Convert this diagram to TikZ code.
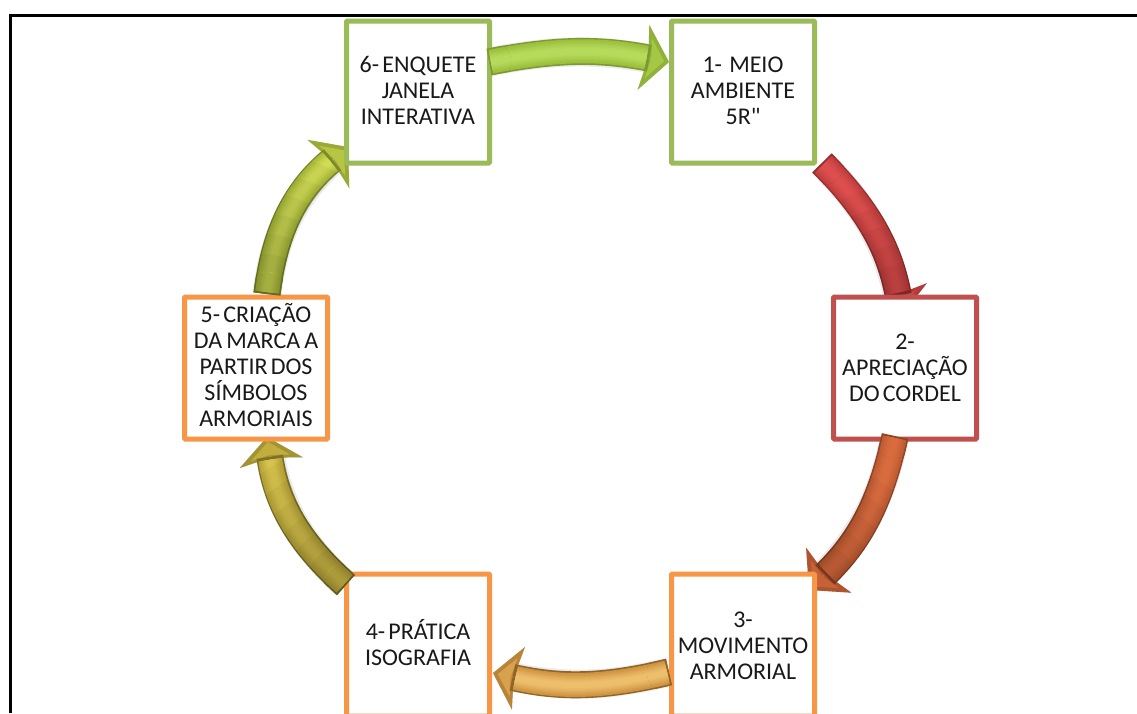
\documentclass[tikz,border=0pt]{standalone}
\usepackage{fontspec}
\setmainfont{Carlito}
\newfontfamily\nomap{Carlito}
\usetikzlibrary{arrows.meta,bending}
\pgfdeclarelayer{back}
\pgfdeclarelayer{front}
\pgfsetlayers{back,main,front}
\definecolor{bxgreen}{HTML}{9BBB59}
\definecolor{bxred}{HTML}{C0504D}
\definecolor{bxorange}{HTML}{F79646}
% arrow colours: dark, mid, light
\definecolor{aGd}{HTML}{7C9A30}\definecolor{aGm}{HTML}{9CBF3C}\definecolor{aGl}{HTML}{B6DA5C}
\definecolor{aRd}{HTML}{983130}\definecolor{aRm}{HTML}{C23F3F}\definecolor{aRl}{HTML}{DC4F4E}
\definecolor{aOd}{HTML}{8F4526}\definecolor{aOm}{HTML}{BF5C33}\definecolor{aOl}{HTML}{D96C3E}
\definecolor{aAd}{HTML}{8F6428}\definecolor{aAm}{HTML}{CF9440}\definecolor{aAl}{HTML}{EDBE6C}
\definecolor{aYd}{HTML}{7F7325}\definecolor{aYm}{HTML}{B8A53A}\definecolor{aYl}{HTML}{D6C24C}
\definecolor{aLd}{HTML}{7E8A28}\definecolor{aLm}{HTML}{ABBB3C}\definecolor{aLl}{HTML}{D0DC54}
\newcommand\tsp{\hspace{0.13em}}
\newcommand\wsp{\hspace{0.17em}}
\tikzset{
  stagebox/.style={draw=#1,fill=white,line width=5pt,rounded corners=1pt,minimum width=143pt,minimum height=142pt,
    inner sep=0pt,outer sep=0pt,text width=140pt,align=center,
    font=\fontsize{24}{26}\selectfont,text=black!90},
  textup/.style={execute at end node={\par\vspace{#1pt}}},
}
\newcommand\nofade[4]{}
% darken the body progressively towards its tail: circles grow round the tail end
\newcommand\fadetail[4]{%
  \foreach \sv in {40,60,80,100,120,140}{%
    \begin{scope}
      \clip (#1) circle[radius=\sv pt];
      \draw[line width=27pt,draw=black,opacity=.035,shorten >=#4pt-6pt] (#1) to[bend left=#3] (#2);
    \end{scope}
  }%
}
% darken the body progressively towards its head
\newcommand\fadehead[4]{%
  \foreach \sv in {50,70,90,110,130}{%
    \begin{scope}
      \clip (#2) circle[radius=\sv pt];
      \draw[line width=27pt,draw=black,opacity=.03,shorten >=#4pt-6pt] (#1) to[bend left=#3] (#2);
    \end{scope}
  }%
}
\let\fadecmd\nofade
% from, to, bend, dark, mid, light, head length
\newcommand\fatbody[7]{%
  \draw[line width=27pt,draw=#4,shorten >=#7pt-6pt] (#1) to[bend left=#3] (#2);
  \foreach \wd/\pc in {24/0,21/15,18/35,15/55,12/72,9/88,6/100}{%
    \draw[line width=\wd pt,draw=#6!\pc!#5,shorten >=#7pt-3pt,shorten <=2pt] (#1) to[bend left=#3] (#2);
  }%
  \fadecmd{#1}{#2}{#3}{#7}%
}
% from, to, bend, dark, mid, light, head length, head width
\newcommand\fatarrow[8]{%
  \begin{pgfonlayer}{back}
    \begin{scope}[shift={(2pt,-4pt)}]
      \draw[line width=29pt,draw=black,opacity=.08,-{Stealth[flex,length=#7pt,width=#8pt,inset=5pt,line width=0pt]}] (#1) to[bend left=#3] (#2);
      \draw[line width=25pt,draw=black,opacity=.10,-{Stealth[flex,length=#7pt,width=#8pt,inset=5pt,line width=0pt]}] (#1) to[bend left=#3] (#2);
    \end{scope}
    \draw[line width=1pt,draw=#4!35!#5,-{Stealth[flex,length=#7pt,width=#8pt,inset=5pt,line width=0pt]}] (#1) to[bend left=#3] (#2);
    \draw[line width=1pt,draw=#6!30!#5,shorten >=5pt,-{Stealth[flex,length=0.62*#7pt,width=0.62*#8pt,inset=3pt,line width=0pt]}] (#1) to[bend left=#3] (#2);
    \fatbody{#1}{#2}{#3}{#4}{#5}{#6}{#7}
  \end{pgfonlayer}
  \begin{pgfonlayer}{front}
    \begin{scope}
      \clip (#1) circle[radius=22pt];
      \fatbody{#1}{#2}{#3}{#4}{#5}{#6}{#7}
    \end{scope}
  \end{pgfonlayer}
}
\begin{document}
\begin{tikzpicture}[x=1pt,y=1pt]
\useasboundingbox (0,-713) rectangle (1137,0);
\clip (0,-713) rectangle (1137,0);
\begin{pgfonlayer}{back}
\fill[white] (0,-713) rectangle (1137,0);
\draw[line width=3pt,draw=black] (10,-713) -- (10,-15) -- (1137,-15);
\end{pgfonlayer}

\node[stagebox=bxgreen,textup=4] (n6) at (418,-92) {6-\tsp ENQUETE\\JANELA\\INTERATIVA};
\node[stagebox=bxgreen,textup=2] (n1) at (743,-92) {1-\hspace{0.3em}MEIO\\AMBIENTE\\5R{\nomap"}};
\node[stagebox=bxred,textup=1] (n2) at (905,-368) {2-\\APRECIAÇÃO\\DO\tsp CORDEL};
\node[stagebox=bxorange,textup=-2] (n3) at (743,-645) {3-\\MOVIMENTO\\ARMORIAL};
\node[stagebox=bxorange,textup=4] (n4) at (418,-645) {4-\tsp PRÁTICA\\ISOGRAFIA};
\node[stagebox=bxorange,textup=6] (n5) at (256,-368) {5-\tsp CRIAÇÃO\\DA\wsp MARCA\wsp A\\PARTIR\tsp DOS\\SÍMBOLOS\\ARMORIAIS};

\coordinate (t1) at (489,-62);  \coordinate (h1) at (669,-62);
\coordinate (t2) at (822,-163); \coordinate (h2) at (902,-315);
\coordinate (t3) at (895,-436); \coordinate (h3) at (809,-590);
\coordinate (t4) at (669,-672); \coordinate (h4) at (493,-673);
\coordinate (t5) at (346,-585); \coordinate (h5) at (267,-437);
\coordinate (t6) at (267,-294); \coordinate (h6) at (348,-147);

\fatarrow{t1}{h1}{11}{aGd}{aGm}{aGl}{26}{66}
\let\fadecmd\fadehead
\fatarrow{t2}{h2}{17}{aRd}{aRm}{aRl}{26}{62}
\fatarrow{t3}{h3}{17}{aOd}{aOm}{aOl}{28}{64}
\let\fadecmd\nofade
\fatarrow{t4}{h4}{13}{aAd}{aAm}{aAl}{26}{64}
\let\fadecmd\fadetail
\fatarrow{t5}{h5}{20}{aYd}{aYm}{aYl}{26}{64}
\fatarrow{t6}{h6}{22}{aLd}{aLm}{aLl}{26}{64}
\end{tikzpicture}
\end{document}
